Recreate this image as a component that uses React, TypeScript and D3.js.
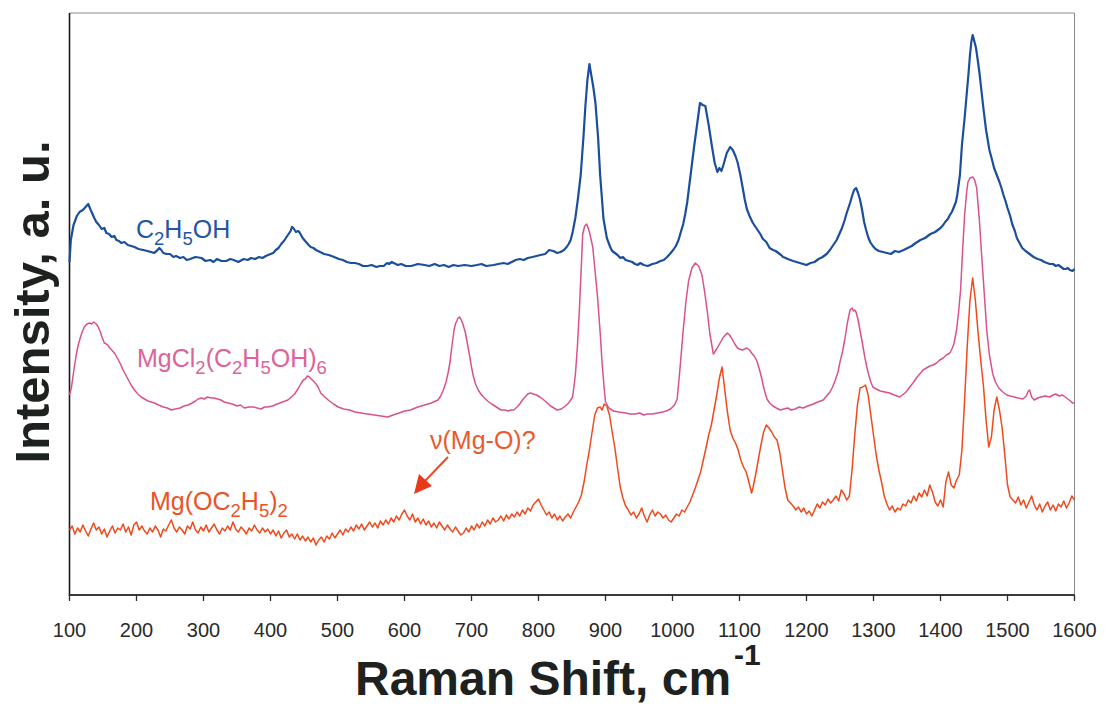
import React from "react";
import * as d3 from "d3";

// Raman shift (cm-1) vs intensity (a.u., arbitrary offset units)
const ethanolSpectrum: [number, number][] = [
  [100, 338], [102, 360], [106, 375], [111, 384], [115, 388], [120, 390], [124, 393], [128, 396], [131, 391], [133, 388],
  [137, 382], [140, 378], [144, 375], [148, 371], [152, 372], [155, 367], [159, 366], [163, 363], [167, 364], [170, 360],
  [174, 359], [177, 357], [182, 358], [187, 355], [192, 354], [197, 353], [203, 351], [210, 350], [216, 349], [222, 348],
  [226, 347], [230, 349], [234, 352], [237, 350], [240, 347], [245, 346], [250, 346], [255, 343], [259, 344], [265, 342],
  [270, 343], [275, 340], [280, 341], [288, 343], [297, 342], [303, 339], [310, 340], [315, 338], [320, 341], [327, 339],
  [334, 339], [340, 341], [345, 340], [352, 338], [360, 341], [366, 340], [371, 342], [377, 341], [383, 343], [388, 342],
  [393, 344], [400, 346], [404, 347], [408, 350], [412, 352], [416, 356], [420, 359], [423, 362], [427, 366], [430, 369],
  [432, 373], [434, 372], [436, 370], [438, 368], [441, 369], [443, 368], [448, 362], [453, 358], [457, 355], [460, 353],
  [464, 352], [468, 350], [474, 348], [480, 346], [487, 345], [495, 343], [502, 341], [508, 340], [514, 338], [520, 337],
  [526, 337], [532, 336], [538, 334], [545, 334], [551, 335], [558, 333], [563, 334], [569, 334], [574, 337], [577, 336],
  [581, 338], [584, 337], [590, 335], [595, 336], [602, 334], [610, 334], [620, 336], [630, 335], [637, 334], [645, 336],
  [652, 334], [659, 335], [666, 333], [673, 335], [680, 334], [690, 335], [700, 334], [708, 335], [715, 336], [722, 334],
  [733, 335], [740, 336], [748, 337], [754, 336], [760, 338], [766, 340], [772, 341], [778, 340], [784, 342], [791, 343],
  [797, 344], [803, 345], [810, 346], [816, 350], [822, 349], [828, 347], [833, 348], [838, 350], [842, 353], [845, 356],
  [848, 360], [851, 368], [855, 382], [859, 402], [863, 425], [867, 462], [870, 494], [873, 520], [876, 536], [879, 524],
  [882, 512], [885, 497], [889, 462], [892, 425], [897, 381], [902, 362], [907, 353], [910, 349], [914, 347], [918, 345],
  [922, 342], [926, 343], [930, 340], [935, 339], [940, 338], [944, 336], [948, 335], [952, 337], [957, 335], [963, 334],
  [970, 336], [976, 337], [982, 339], [987, 340], [992, 343], [996, 346], [1001, 350], [1005, 354], [1009, 360], [1012, 367],
  [1016, 376], [1019, 386], [1022, 398], [1027, 425], [1032, 452], [1037, 477], [1041, 497], [1045, 495], [1049, 494], [1054, 475],
  [1059, 453], [1063, 437], [1067, 428], [1070, 432], [1073, 429], [1076, 435], [1081, 447], [1086, 453], [1090, 450], [1094, 444],
  [1097, 438], [1101, 426], [1104, 415], [1108, 400], [1111, 391], [1115, 384], [1120, 377], [1125, 372], [1131, 366], [1135, 361],
  [1140, 358], [1145, 352], [1150, 350], [1154, 349], [1158, 347], [1162, 345], [1165, 343], [1169, 342], [1172, 341], [1176, 340],
  [1180, 339], [1185, 338], [1190, 337], [1195, 336], [1200, 335], [1206, 337], [1212, 338], [1218, 341], [1224, 343], [1230, 346],
  [1235, 350], [1240, 355], [1245, 360], [1249, 366], [1253, 372], [1257, 380], [1260, 387], [1265, 397], [1268, 404], [1271, 410],
  [1274, 412], [1277, 407], [1280, 400], [1283, 390], [1286, 378], [1289, 370], [1292, 363], [1295, 358], [1299, 354], [1303, 351],
  [1308, 349], [1314, 348], [1320, 347], [1326, 346], [1332, 349], [1338, 348], [1345, 350], [1351, 352], [1357, 354], [1363, 357],
  [1370, 360], [1377, 362], [1385, 366], [1392, 368], [1400, 372], [1404, 375], [1407, 378], [1411, 381], [1414, 385], [1417, 388],
  [1420, 393], [1423, 398], [1425, 405], [1429, 425], [1432, 455], [1436, 482], [1439, 505], [1442, 528], [1444, 545], [1446, 558],
  [1448, 565], [1450, 560], [1453, 552], [1456, 538], [1458, 528], [1461, 510], [1464, 492], [1468, 470], [1473, 450], [1477, 440],
  [1480, 432], [1484, 425], [1488, 418], [1491, 412], [1494, 405], [1497, 399], [1500, 392], [1504, 384], [1507, 376], [1511, 369],
  [1514, 362], [1518, 357], [1522, 352], [1527, 349], [1533, 346], [1539, 343], [1545, 341], [1550, 340], [1555, 338], [1559, 337],
  [1563, 336], [1568, 336], [1572, 334], [1576, 335], [1580, 333], [1584, 331], [1587, 331], [1590, 332], [1593, 330], [1597, 329],
  [1600, 331],
];

const mgcl2EthanolSpectrum: [number, number][] = [
  [100, 205], [103, 213], [107, 232], [110, 245], [113, 255], [116, 262], [119, 268], [122, 273], [126, 276], [130, 277],
  [133, 276], [136, 278], [140, 276], [143, 273], [146, 268], [148, 264], [152, 257], [155, 256], [157, 255], [160, 252],
  [163, 250], [168, 246], [173, 240], [176, 236], [180, 230], [184, 225], [188, 220], [192, 215], [197, 210], [202, 206],
  [207, 203], [212, 201], [217, 199], [222, 198], [227, 197], [233, 195], [240, 193], [246, 192], [252, 190], [258, 191],
  [265, 192], [271, 194], [277, 195], [283, 197], [288, 199], [292, 201], [297, 202], [301, 201], [306, 203], [311, 202],
  [316, 202], [321, 201], [326, 200], [331, 198], [337, 197], [343, 196], [350, 194], [355, 195], [361, 192], [368, 193],
  [375, 193], [380, 192], [386, 191], [391, 193], [396, 193], [403, 194], [410, 196], [418, 198], [426, 200], [431, 203],
  [436, 206], [441, 211], [446, 217], [449, 220], [452, 221], [455, 224], [458, 223], [461, 221], [464, 219], [468, 216],
  [471, 213], [475, 207], [481, 203], [488, 199], [494, 196], [501, 193], [509, 191], [518, 190], [526, 188], [535, 187],
  [545, 186], [555, 185], [565, 184], [575, 183], [583, 185], [592, 187], [600, 189], [609, 190], [620, 193], [630, 195],
  [640, 197], [650, 200], [654, 204], [658, 210], [662, 218], [665, 227], [668, 238], [670, 250], [672, 260], [674, 270],
  [676, 276], [678, 279], [680, 282], [682, 283], [684, 281], [686, 278], [688, 274], [691, 267], [694, 256], [697, 245],
  [700, 233], [703, 223], [706, 216], [710, 210], [714, 206], [718, 203], [724, 199], [730, 196], [737, 193], [744, 190],
  [750, 190], [755, 189], [759, 190], [763, 190], [768, 193], [772, 196], [776, 200], [780, 203], [784, 206], [788, 207],
  [792, 206], [797, 205], [802, 203], [808, 200], [813, 197], [818, 194], [823, 192], [828, 190], [834, 191], [840, 194],
  [845, 197], [851, 203], [855, 225], [858, 253], [861, 290], [863, 320], [866, 366], [869, 374], [872, 376], [876, 368],
  [881, 353], [884, 332], [888, 304], [892, 268], [895, 236], [898, 212], [900, 198], [905, 192], [912, 189], [920, 188],
  [930, 187], [937, 186], [945, 186], [951, 187], [957, 185], [963, 186], [970, 186], [978, 187], [985, 188], [991, 189],
  [997, 191], [1003, 195], [1007, 201], [1011, 230], [1016, 270], [1020, 298], [1024, 319], [1029, 332], [1034, 337], [1039, 334],
  [1044, 325], [1048, 308], [1052, 288], [1056, 265], [1061, 246], [1066, 251], [1071, 257], [1076, 263], [1082, 267], [1085, 265],
  [1088, 262], [1093, 256], [1097, 252], [1100, 251], [1104, 250], [1108, 251], [1111, 252], [1115, 250], [1118, 247], [1122, 244],
  [1126, 239], [1130, 230], [1133, 222], [1137, 210], [1141, 201], [1145, 197], [1150, 194], [1155, 192], [1161, 190], [1166, 191],
  [1172, 192], [1177, 190], [1183, 191], [1189, 193], [1195, 192], [1202, 194], [1210, 196], [1217, 198], [1225, 200], [1230, 204],
  [1235, 208], [1239, 213], [1243, 220], [1247, 228], [1250, 238], [1254, 249], [1257, 260], [1261, 277], [1265, 290], [1268, 292],
  [1270, 289], [1272, 290], [1274, 288], [1277, 280], [1282, 262], [1287, 243], [1290, 233], [1293, 225], [1296, 218], [1299, 213],
  [1304, 211], [1310, 209], [1317, 208], [1324, 207], [1331, 205], [1339, 203], [1343, 205], [1347, 207], [1351, 210], [1354, 213],
  [1359, 217], [1364, 222], [1369, 226], [1374, 230], [1379, 232], [1384, 234], [1389, 235], [1394, 237], [1399, 240], [1404, 242],
  [1409, 245], [1414, 247], [1417, 251], [1420, 256], [1424, 270], [1427, 288], [1430, 310], [1433, 350], [1436, 385], [1439, 408],
  [1441, 418], [1444, 422], [1448, 423], [1451, 420], [1454, 412], [1458, 380], [1462, 339], [1466, 300], [1469, 270], [1473, 245],
  [1478, 226], [1482, 218], [1487, 212], [1493, 208], [1499, 205], [1504, 204], [1510, 203], [1516, 202], [1523, 201], [1528, 204],
  [1531, 209], [1533, 210], [1536, 203], [1540, 200], [1545, 202], [1550, 203], [1556, 204], [1563, 203], [1568, 205], [1572, 206],
  [1577, 204], [1582, 205], [1586, 203], [1590, 201], [1594, 199], [1597, 197], [1600, 197],
];

const mgEthoxideSpectrum: [number, number][] = [
  [100, 70], [104, 74], [108, 66], [112, 72], [116, 68], [120, 75], [124, 69], [128, 64], [132, 71], [136, 77],
  [140, 70], [144, 73], [148, 66], [152, 71], [156, 63], [160, 69], [164, 74], [168, 67], [172, 72], [176, 70],
  [180, 76], [184, 68], [188, 73], [192, 65], [196, 75], [200, 78], [204, 70], [208, 74], [212, 69], [216, 66],
  [220, 72], [224, 68], [228, 74], [232, 70], [236, 63], [240, 71], [244, 69], [248, 75], [252, 80], [256, 72],
  [260, 68], [264, 73], [268, 70], [272, 66], [276, 74], [280, 71], [284, 78], [288, 70], [292, 67], [296, 73],
  [300, 69], [304, 75], [308, 68], [312, 72], [316, 76], [320, 70], [324, 66], [328, 72], [332, 69], [336, 74],
  [340, 70], [344, 78], [348, 71], [352, 68], [356, 73], [360, 70], [364, 66], [368, 72], [372, 69], [376, 75],
  [380, 70], [384, 67], [388, 72], [392, 68], [396, 71], [400, 66], [404, 70], [408, 64], [412, 69], [416, 62],
  [420, 67], [424, 70], [428, 63], [432, 66], [436, 61], [440, 66], [444, 60], [448, 64], [452, 59], [456, 63],
  [460, 58], [464, 62], [468, 55], [472, 60], [476, 63], [480, 58], [484, 64], [488, 61], [492, 67], [496, 62],
  [500, 66], [504, 70], [508, 65], [512, 71], [516, 68], [520, 73], [524, 69], [528, 75], [532, 71], [536, 76],
  [540, 70], [544, 74], [548, 78], [552, 73], [556, 77], [560, 72], [564, 79], [568, 75], [572, 80], [576, 76],
  [580, 82], [584, 78], [588, 84], [592, 80], [596, 86], [600, 90], [604, 84], [608, 80], [612, 86], [616, 78],
  [620, 82], [624, 76], [628, 81], [632, 75], [636, 79], [640, 73], [644, 77], [648, 72], [652, 78], [656, 74],
  [660, 70], [664, 75], [668, 71], [672, 68], [676, 73], [680, 69], [684, 65], [688, 67], [692, 72], [696, 68],
  [700, 74], [704, 70], [708, 76], [712, 72], [716, 78], [720, 74], [724, 80], [728, 76], [732, 82], [736, 78],
  [740, 80], [744, 84], [748, 79], [752, 85], [756, 81], [760, 86], [764, 83], [768, 88], [772, 84], [776, 90],
  [780, 86], [784, 92], [788, 89], [792, 95], [796, 98], [800, 101], [804, 95], [808, 90], [812, 85], [816, 88],
  [820, 82], [824, 86], [828, 80], [832, 84], [836, 79], [840, 83], [844, 86], [848, 82], [852, 88], [856, 93],
  [860, 98], [864, 105], [868, 118], [872, 135], [876, 150], [880, 168], [884, 185], [888, 192], [892, 193], [895, 190],
  [898, 196], [902, 194], [906, 185], [910, 168], [914, 152], [918, 132], [922, 113], [926, 102], [930, 94], [934, 90],
  [938, 85], [942, 88], [946, 82], [950, 86], [954, 92], [958, 84], [962, 78], [966, 85], [970, 90], [974, 84],
  [978, 88], [982, 86], [986, 82], [990, 85], [994, 80], [998, 78], [1002, 82], [1006, 86], [1010, 84], [1014, 90],
  [1018, 88], [1022, 93], [1026, 98], [1030, 105], [1034, 112], [1038, 120], [1042, 128], [1046, 140], [1050, 152], [1054, 165],
  [1058, 175], [1062, 190], [1066, 205], [1070, 222], [1074, 233], [1078, 210], [1082, 188], [1086, 170], [1090, 162], [1094, 157],
  [1098, 150], [1102, 140], [1106, 133], [1110, 128], [1114, 118], [1118, 107], [1120, 112], [1124, 125], [1128, 140], [1132, 155],
  [1136, 168], [1140, 175], [1144, 172], [1148, 168], [1152, 163], [1156, 160], [1160, 148], [1164, 130], [1168, 112], [1172, 100],
  [1176, 97], [1180, 94], [1184, 90], [1188, 93], [1192, 88], [1196, 92], [1200, 86], [1204, 89], [1208, 84], [1212, 90],
  [1216, 96], [1220, 92], [1224, 98], [1228, 95], [1232, 101], [1236, 97], [1240, 100], [1244, 104], [1248, 99], [1252, 110],
  [1256, 106], [1260, 100], [1264, 104], [1268, 130], [1272, 165], [1276, 195], [1280, 212], [1284, 213], [1288, 215], [1292, 205],
  [1296, 185], [1300, 165], [1304, 145], [1308, 130], [1312, 118], [1316, 104], [1320, 96], [1324, 90], [1328, 94], [1332, 88],
  [1336, 92], [1340, 90], [1344, 96], [1348, 94], [1352, 100], [1356, 97], [1360, 104], [1364, 99], [1368, 107], [1372, 103],
  [1376, 110], [1380, 104], [1384, 115], [1388, 108], [1392, 98], [1396, 94], [1400, 100], [1404, 93], [1408, 118], [1412, 128],
  [1416, 115], [1420, 112], [1424, 120], [1428, 125], [1432, 150], [1436, 200], [1440, 255], [1444, 300], [1448, 322], [1452, 300],
  [1456, 268], [1460, 240], [1464, 215], [1468, 180], [1472, 153], [1476, 163], [1480, 190], [1484, 203], [1488, 190], [1492, 172],
  [1496, 145], [1500, 115], [1504, 103], [1508, 100], [1512, 97], [1516, 103], [1520, 95], [1524, 100], [1528, 92], [1532, 98],
  [1536, 104], [1540, 95], [1544, 90], [1548, 96], [1552, 88], [1556, 94], [1560, 98], [1564, 90], [1568, 95], [1572, 89],
  [1576, 96], [1580, 93], [1584, 99], [1588, 92], [1592, 97], [1596, 104], [1600, 100],
];

const xTicks = [100, 200, 300, 400, 500, 600, 700, 800, 900, 1000, 1100, 1200, 1300, 1400, 1500, 1600];

type Part = { t: string; sub?: boolean };
const labelEthanol: Part[] = [{ t: "C" }, { t: "2", sub: true }, { t: "H" }, { t: "5", sub: true }, { t: "OH" }];
const labelMgCl2: Part[] = [
  { t: "MgCl" }, { t: "2", sub: true }, { t: "(C" }, { t: "2", sub: true }, { t: "H" }, { t: "5", sub: true },
  { t: "OH)" }, { t: "6", sub: true },
];
const labelEthoxide: Part[] = [{ t: "Mg(OC" }, { t: "2", sub: true }, { t: "H" }, { t: "5", sub: true }, { t: ")" }, { t: "2", sub: true }];
const annotationText = "ν(Mg-O)?";

const W = 1105;
const H = 704;
const FONT = "'Liberation Sans', Arial, Helvetica, sans-serif";

function Formula({ parts, x, y, fill, size }: { parts: Part[]; x: number; y: number; fill: string; size: number }) {
  let prevSub = false;
  const shift = size * 0.28;
  return (
    <text x={x} y={y} fill={fill} fontSize={size} fontFamily={FONT}>
      {parts.map((p, i) => {
        let dy = 0;
        if (p.sub && !prevSub) dy = shift;
        else if (!p.sub && prevSub) dy = -shift;
        prevSub = !!p.sub;
        return (
          <tspan key={i} dy={dy} fontSize={p.sub ? size * 0.74 : size}>
            {p.t}
          </tspan>
        );
      })}
    </text>
  );
}

export default function App() {
  const left = 69.5;
  const right = 1074.5;
  const top = 13;
  const bottom = 595;
  const x = d3.scaleLinear().domain([100, 1600]).range([left, right]);
  const y = d3.scaleLinear().domain([5, 587]).range([bottom, top]);
  const line = d3
    .line<[number, number]>()
    .x((d) => x(d[0]))
    .y((d) => y(d[1]));

  return (
    <svg width={W} height={H} viewBox={`0 0 ${W} ${H}`} style={{ display: "block", position: "absolute", left: 0, top: 0 }}>
      <rect width={W} height={H} fill="#ffffff" />
      {/* frame */}
      <line x1={left} x2={right} y1={top} y2={top} stroke="#8a8a8a" strokeWidth={1} />
      <line x1={right} x2={right} y1={top} y2={bottom} stroke="#8a8a8a" strokeWidth={1} />
      <line x1={left} x2={left} y1={top} y2={bottom + 1} stroke="#1a1a1a" strokeWidth={1.6} />
      <line x1={left} x2={right} y1={bottom} y2={bottom} stroke="#3a3a3a" strokeWidth={2} />
      {xTicks.map((t) => (
        <g key={t}>
          <line x1={x(t)} x2={x(t)} y1={bottom} y2={bottom + 6} stroke="#2a2a2a" strokeWidth={1.3} />
          <text x={x(t)} y={637} textAnchor="middle" fontSize={20} fontFamily={FONT} fill="#2a2a2a">
            {t}
          </text>
        </g>
      ))}

      {/* spectra */}
      <path d={line(mgEthoxideSpectrum) || ""} fill="none" stroke="#ee4a1e" strokeWidth={1.5} strokeLinejoin="round" />
      <path d={line(mgcl2EthanolSpectrum) || ""} fill="none" stroke="#d9528c" strokeWidth={1.5} strokeLinejoin="round" />
      <path d={line(ethanolSpectrum) || ""} fill="none" stroke="#1b4e9c" strokeWidth={2.2} strokeLinejoin="round" />

      {/* series labels */}
      <Formula parts={labelEthanol} x={136} y={238} fill="#1f56a6" size={25} />
      <Formula parts={labelMgCl2} x={137} y={367} fill="#dc6498" size={25} />
      <Formula parts={labelEthoxide} x={150} y={510} fill="#ea5326" size={25} />

      {/* annotation */}
      <text x={430} y={449} fontSize={25} fontFamily={FONT} fill="#ea5a2e">
        {annotationText}
      </text>
      <line x1={448} y1={457} x2={424} y2={482} stroke="#ea4a22" strokeWidth={2} />
      <path d="M414,494 L419,474 L432,486 Z" fill="#e83a18" />

      {/* axis titles */}
      <text x={355} y={695} fontSize={48} fontWeight="bold" fontFamily={FONT} fill="#1e221e">
        Raman Shift, cm
      </text>
      <text x={734} y={665} fontSize={30} fontWeight="bold" fontFamily={FONT} fill="#1e221e">
        -1
      </text>
      <text
        transform="translate(49,302) rotate(-90)"
        textAnchor="middle"
        fontSize={49}
        fontWeight="bold"
        fontFamily={FONT}
        fill="#1e221e"
      >
        Intensity, a. u.
      </text>
    </svg>
  );
}
